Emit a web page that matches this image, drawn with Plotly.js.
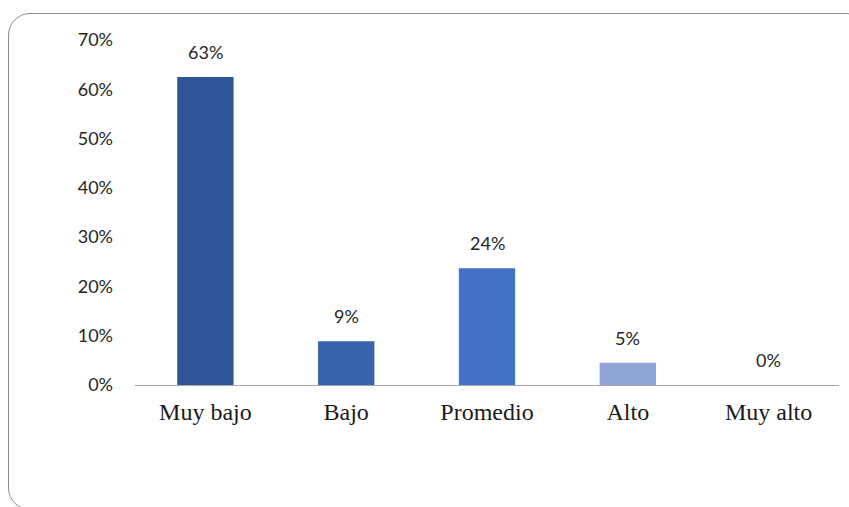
<!DOCTYPE html>
<html><head><meta charset="utf-8">
<script src="https://cdn.plot.ly/plotly-3.0.1.min.js"></script>
<style>
html,body{margin:0;padding:0;background:#fff;overflow:hidden;}
#frame{position:absolute;left:8px;top:13px;width:860px;height:497px;border:1.5px solid #8c8c8c;border-radius:22px;box-sizing:border-box;}
#chart{position:absolute;left:0;top:0;width:849px;height:507px;}
</style></head>
<body>
<div id="frame"></div>
<div id="chart"></div>
<script>
const categories = ["Muy bajo", "Bajo", "Promedio", "Alto", "Muy alto"];
const values = [62.5, 8.9, 23.7, 4.5, 0];
const labels = ["63%", "9%", "24%", "5%", "0%"];
const colors = ["#2F5597", "#3A63AD", "#4472C4", "#8FA5D6", "#8FA5D6"];
const tickVals = [0, 10, 20, 30, 40, 50, 60, 70];
const tickText = ["0%", "10%", "20%", "30%", "40%", "50%", "60%", "70%"];

const sans = "Lato, 'Open Sans', sans-serif";
const annotations = categories.map((c, i) => ({
  x: c, y: values[i], xref: "x", yref: "y",
  text: labels[i], showarrow: false, yanchor: "bottom", yshift: 12,
  font: {family: sans, size: 18, color: "#262626"}
}));

Plotly.newPlot("chart", [{
  type: "bar",
  x: categories,
  y: values,
  marker: {color: colors},
  width: 0.4,
  hoverinfo: "none"
}], {
  width: 849, height: 507,
  margin: {l: 134.5, r: 9.5, t: 40, b: 122, pad: 0},
  paper_bgcolor: "rgba(0,0,0,0)",
  plot_bgcolor: "rgba(0,0,0,0)",
  showlegend: false,
  annotations: annotations,
  xaxis: {
    showgrid: false, zeroline: false, showline: true, linecolor: "#a6a6a6", linewidth: 1,
    ticks: "", tickfont: {family: "'Liberation Serif', 'Times New Roman', serif", size: 24, color: "#1a1a1a"},
    ticklabelstandoff: 5
  },
  yaxis: {
    range: [0, 70], tickvals: tickVals, ticktext: tickText,
    showgrid: false, zeroline: false, showline: false, ticks: "",
    tickfont: {family: sans, size: 18, color: "#262626"},
    ticklabelstandoff: 21
  }
}, {staticPlot: true});
</script>
</body></html>
